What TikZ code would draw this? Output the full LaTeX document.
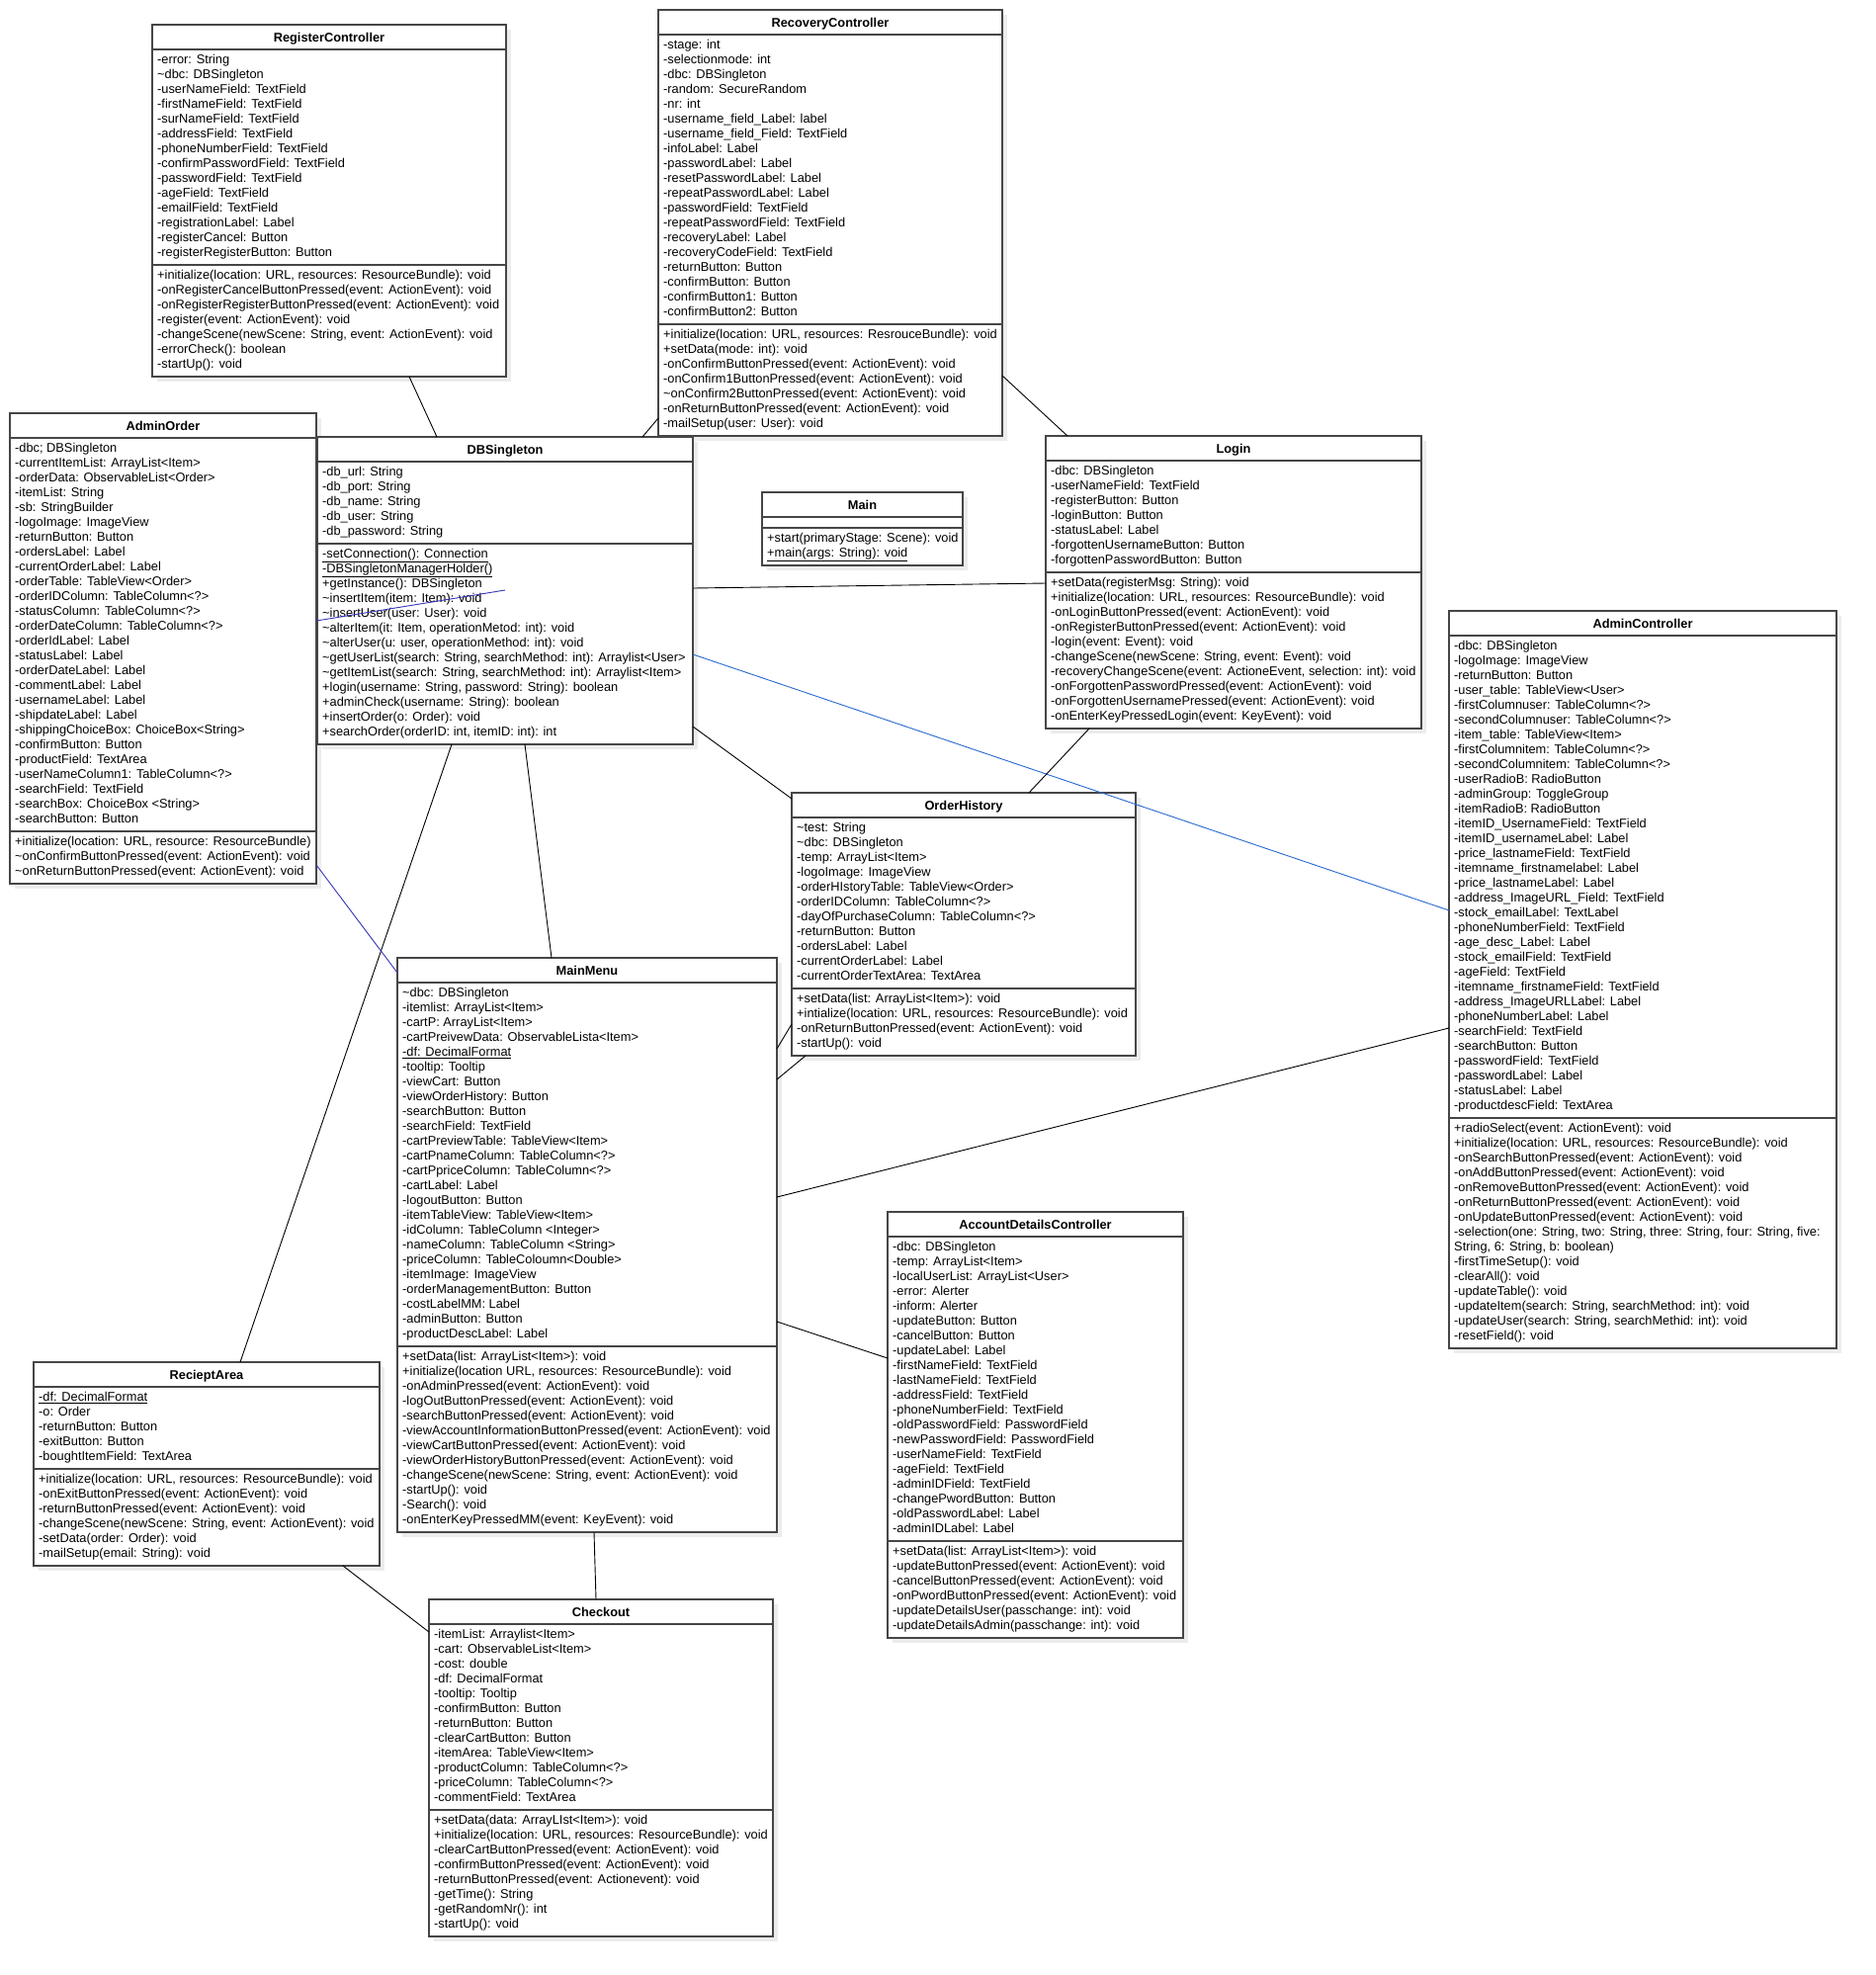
\documentclass[tikz,border=0pt]{standalone}
\usepackage{fontspec}
\setmainfont{Liberation Sans}
\definecolor{boxc}{RGB}{70,70,70}
\definecolor{shadowc}{RGB}{236,236,236}
\definecolor{blueA}{RGB}{40,105,210}
\definecolor{blueB}{RGB}{55,55,185}
\newcommand\tl{\textasciitilde}
% #1 name #2 x #3 y #4 width #5 title #6 n attrs #7 attrs #8 n methods #9 methods
\newcommand\umlclass[9]{%
  \pgfmathsetmacro\ha{#6==0 ? 11 : 15*#6+8}%
  \pgfmathsetmacro\hm{15*#8+8}%
  \pgfmathsetmacro\htot{25+\ha+\hm}%
  \fill[shadowc] (#2+5,#3+5) rectangle ++(#4,\htot);
  \node[boxnode, minimum width=#4pt, minimum height=\htot pt] (#1) at (#2,#3) {};
  \draw[sepline] (#2,#3+25) -- ++(#4,0);
  \draw[sepline] (#2,#3+25+\ha) -- ++(#4,0);
  \node[titletext] at (#2+#4/2,#3+17) {#5};
  \ifnum#6>0
    \foreach \myline [count=\i] in {#7}{\node[linetext] at (#2+5,#3+25+14.5+15*\i-15) {\myline};}
  \fi
  \foreach \myline [count=\i] in {#9}{\node[linetext] at (#2+5,#3+25+\ha+14.5+15*\i-15) {\myline};}
}
\begin{document}
\begin{tikzpicture}[x=1pt,y=-1pt,
  boxnode/.style={draw=boxc, line width=1.3pt, fill=white, anchor=north west, inner sep=0pt, outer sep=0pt},
  sepline/.style={draw=boxc, line width=1.3pt},
  titletext/.style={anchor=base, inner sep=0pt, font=\fontsize{12.8}{15}\selectfont\bfseries},
  linetext/.style={anchor=base west, inner sep=0pt, font=\fontsize{12.8}{15}\selectfont},
  conn/.style={draw=black, line width=0.9pt},
  bconnA/.style={draw=blueA, line width=0.9pt},
  bconnB/.style={draw=blueB, line width=0.9pt}]
\fill[white] (0,0) rectangle (1898,1998);
\useasboundingbox (0,0) rectangle (1898,1998);

\umlclass{reg}{154}{25}{358}{RegisterController}{14}{{-error: String},{\tl dbc: DBSingleton},{-userNameField: TextField},{-firstNameField: TextField},{-surNameField: TextField},{-addressField: TextField},{-phoneNumberField: TextField},{-confirmPasswordField: TextField},{-passwordField: TextField},{-ageField: TextField},{-emailField: TextField},{-registrationLabel: Label},{-registerCancel: Button},{-registerRegisterButton: Button}}{7}{{+initialize(location: URL, resources: ResourceBundle): void},{-onRegisterCancelButtonPressed(event: ActionEvent): void},{-onRegisterRegisterButtonPressed(event: ActionEvent): void},{-register(event: ActionEvent): void},{-changeScene(newScene: String, event: ActionEvent): void},{-errorCheck(): boolean},{-startUp(): void}}

\umlclass{rec}{666}{10}{348}{RecoveryController}{19}{{-stage: int},{-selectionmode: int},{-dbc: DBSingleton},{-random: SecureRandom},{-nr: int},{-username\_field\_Label: label},{-username\_field\_Field: TextField},{-infoLabel: Label},{-passwordLabel: Label},{-resetPasswordLabel: Label},{-repeatPasswordLabel: Label},{-passwordField: TextField},{-repeatPasswordField: TextField},{-recoveryLabel: Label},{-recoveryCodeField: TextField},{-returnButton: Button},{-confirmButton: Button},{-confirmButton1: Button},{-confirmButton2: Button}}{7}{{+initialize(location: URL, resources: ResrouceBundle): void},{+setData(mode: int): void},{-onConfirmButtonPressed(event: ActionEvent): void},{-onConfirm1ButtonPressed(event: ActionEvent): void},{\tl onConfirm2ButtonPressed(event: ActionEvent): void},{-onReturnButtonPressed(event: ActionEvent): void},{-mailSetup(user: User): void}}

\umlclass{ao}{10}{418}{310}{AdminOrder}{26}{{-dbc; DBSingleton},{-currentItemList: ArrayList<Item>},{-orderData: ObservableList<Order>},{-itemList: String},{-sb: StringBuilder},{-logoImage: ImageView},{-returnButton: Button},{-ordersLabel: Label},{-currentOrderLabel: Label},{-orderTable: TableView<Order>},{-orderIDColumn: TableColumn<?>},{-statusColumn: TableColumn<?>},{-orderDateColumn: TableColumn<?>},{-orderIdLabel: Label},{-statusLabel: Label},{-orderDateLabel: Label},{-commentLabel: Label},{-usernameLabel: Label},{-shipdateLabel: Label},{-shippingChoiceBox: ChoiceBox<String>},{-confirmButton: Button},{-productField: TextArea},{-userNameColumn1: TableColumn<?>},{-searchField: TextField},{-searchBox: ChoiceBox <String>},{-searchButton: Button}}{3}{{+initialize(location: URL, resource: ResourceBundle)},{\tl onConfirmButtonPressed(event: ActionEvent): void},{\tl onReturnButtonPressed(event: ActionEvent): void}}

\umlclass{db}{321}{442}{380}{DBSingleton}{5}{{-db\_url: String},{-db\_port: String},{-db\_name: String},{-db\_user: String},{-db\_password: String}}{13}{{\underline{-setConnection(): Connection}},{\underline{-DBSingletonManagerHolder()}},{+getInstance(): DBSingleton},{\tl insertItem(item: Item): void},{\tl insertUser(user: User): void},{\tl alterItem(it: Item, operationMetod: int): void},{\tl alterUser(u: user, operationMethod: int): void},{\tl getUserList(search: String, searchMethod: int): Arraylist<User>},{\tl getItemList(search: String, searchMethod: int): Arraylist<Item>},{+login(username: String, password: String): boolean},{+adminCheck(username: String): boolean},{+insertOrder(o: Order): void},{+searchOrder(orderID: int, itemID: int): int}}

\umlclass{main}{771}{498}{203}{Main}{0}{}{2}{{+start(primaryStage: Scene): void},{\underline{+main(args: String): void}}}

\umlclass{login}{1058}{441}{380}{Login}{7}{{-dbc: DBSingleton},{-userNameField: TextField},{-registerButton: Button},{-loginButton: Button},{-statusLabel: Label},{-forgottenUsernameButton: Button},{-forgottenPasswordButton: Button}}{10}{{+setData(registerMsg: String): void},{+initialize(location: URL, resources: ResourceBundle): void},{-onLoginButtonPressed(event: ActionEvent): void},{-onRegisterButtonPressed(event: ActionEvent): void},{-login(event: Event): void},{-changeScene(newScene: String, event: Event): void},{-recoveryChangeScene(event: ActioneEvent, selection: int): void},{-onForgottenPasswordPressed(event: ActionEvent): void},{-onForgottenUsernamePressed(event: ActionEvent): void},{-onEnterKeyPressedLogin(event: KeyEvent): void}}

\umlclass{ac}{1466}{618}{392}{AdminController}{32}{{-dbc: DBSingleton},{-logoImage: ImageView},{-returnButton: Button},{-user\_table: TableView<User>},{-firstColumnuser: TableColumn<?>},{-secondColumnuser: TableColumn<?>},{-item\_table: TableView<Item>},{-firstColumnitem: TableColumn<?>},{-secondColumnitem: TableColumn<?>},{-userRadioB: RadioButton},{-adminGroup: ToggleGroup},{-itemRadioB: RadioButton},{-itemID\_UsernameField: TextField},{-itemID\_usernameLabel: Label},{-price\_lastnameField: TextField},{-itemname\_firstnamelabel: Label},{-price\_lastnameLabel: Label},{-address\_ImageURL\_Field: TextField},{-stock\_emailLabel: TextLabel},{-phoneNumberField: TextField},{-age\_desc\_Label: Label},{-stock\_emailField: TextField},{-ageField: TextField},{-itemname\_firstnameField: TextField},{-address\_ImageURLLabel: Label},{-phoneNumberLabel: Label},{-searchField: TextField},{-searchButton: Button},{-passwordField: TextField},{-passwordLabel: Label},{-statusLabel: Label},{-productdescField: TextArea}}{15}{{+radioSelect(event: ActionEvent): void},{+initialize(location: URL, resources: ResourceBundle): void},{-onSearchButtonPressed(event: ActionEvent): void},{-onAddButtonPressed(event: ActionEvent): void},{-onRemoveButtonPressed(event: ActionEvent): void},{-onReturnButtonPressed(event: ActionEvent): void},{-onUpdateButtonPressed(event: ActionEvent): void},{-selection(one: String, two: String, three: String, four: String, five:},{String, 6: String, b: boolean)},{-firstTimeSetup(): void},{-clearAll(): void},{-updateTable(): void},{-updateItem(search: String, searchMethod: int): void},{-updateUser(search: String, searchMethid: int): void},{-resetField(): void}}

\umlclass{oh}{801}{802}{348}{OrderHistory}{11}{{\tl test: String},{\tl dbc: DBSingleton},{-temp: ArrayList<Item>},{-logoImage: ImageView},{-orderHIstoryTable: TableView<Order>},{-orderIDColumn: TableColumn<?>},{-dayOfPurchaseColumn: TableColumn<?>},{-returnButton: Button},{-ordersLabel: Label},{-currentOrderLabel: Label},{-currentOrderTextArea: TextArea}}{4}{{+setData(list: ArrayList<Item>): void},{+intialize(location: URL, resources: ResourceBundle): void},{-onReturnButtonPressed(event: ActionEvent): void},{-startUp(): void}}

\umlclass{mm}{402}{969}{384}{MainMenu}{24}{{\tl dbc: DBSingleton},{-itemlist: ArrayList<Item>},{-cartP: ArrayList<Item>},{-cartPreivewData: ObservableLista<Item>},{\underline{-df: DecimalFormat}},{-tooltip: Tooltip},{-viewCart: Button},{-viewOrderHistory: Button},{-searchButton: Button},{-searchField: TextField},{-cartPreviewTable: TableView<Item>},{-cartPnameColumn: TableColumn<?>},{-cartPpriceColumn: TableColumn<?>},{-cartLabel: Label},{-logoutButton: Button},{-itemTableView: TableView<Item>},{-idColumn: TableColumn <Integer>},{-nameColumn: TableColumn <String>},{-priceColumn: TableColoumn<Double>},{-itemImage: ImageView},{-orderManagementButton: Button},{-costLabelMM: Label},{-adminButton: Button},{-productDescLabel: Label}}{12}{{+setData(list: ArrayList<Item>): void},{+initialize(location URL, resources: ResourceBundle): void},{-onAdminPressed(event: ActionEvent): void},{-logOutButtonPressed(event: ActionEvent): void},{-searchButtonPressed(event: ActionEvent): void},{-viewAccountInformationButtonPressed(event: ActionEvent): void},{-viewCartButtonPressed(event: ActionEvent): void},{-viewOrderHistoryButtonPressed(event: ActionEvent): void},{-changeScene(newScene: String, event: ActionEvent): void},{-startUp(): void},{-Search(): void},{-onEnterKeyPressedMM(event: KeyEvent): void}}

\umlclass{ra}{34}{1378}{350}{RecieptArea}{5}{{\underline{-df: DecimalFormat}},{-o: Order},{-returnButton: Button},{-exitButton: Button},{-boughtItemField: TextArea}}{6}{{+initialize(location: URL, resources: ResourceBundle): void},{-onExitButtonPressed(event: ActionEvent): void},{-returnButtonPressed(event: ActionEvent): void},{-changeScene(newScene: String, event: ActionEvent): void},{-setData(order: Order): void},{-mailSetup(email: String): void}}

\umlclass{adc}{898}{1226}{299}{AccountDetailsController}{20}{{-dbc: DBSingleton},{-temp: ArrayList<Item>},{-localUserList: ArrayList<User>},{-error: Alerter},{-inform: Alerter},{-updateButton: Button},{-cancelButton: Button},{-updateLabel: Label},{-firstNameField: TextField},{-lastNameField: TextField},{-addressField: TextField},{-phoneNumberField: TextField},{-oldPasswordField: PasswordField},{-newPasswordField: PasswordField},{-userNameField: TextField},{-ageField: TextField},{-adminIDField: TextField},{-changePwordButton: Button},{-oldPasswordLabel: Label},{-adminIDLabel: Label}}{6}{{+setData(list: ArrayList<Item>): void},{-updateButtonPressed(event: ActionEvent): void},{-cancelButtonPressed(event: ActionEvent): void},{-onPwordButtonPressed(event: ActionEvent): void},{-updateDetailsUser(passchange: int): void},{-updateDetailsAdmin(passchange: int): void}}

\umlclass{co}{434}{1618}{348}{Checkout}{12}{{-itemList: Arraylist<Item>},{-cart: ObservableList<Item>},{-cost: double},{-df: DecimalFormat},{-tooltip: Tooltip},{-confirmButton: Button},{-returnButton: Button},{-clearCartButton: Button},{-itemArea: TableView<Item>},{-productColumn: TableColumn<?>},{-priceColumn: TableColumn<?>},{-commentField: TextArea}}{8}{{+setData(data: ArrayLIst<Item>): void},{+initialize(location: URL, resources: ResourceBundle): void},{-clearCartButtonPressed(event: ActionEvent): void},{-confirmButtonPressed(event: ActionEvent): void},{-returnButtonPressed(event: Actionevent): void},{-getTime(): String},{-getRandomNr(): int},{-startUp(): void}}

% connectors
\coordinate (dbin) at ([xshift=190pt,yshift=-155pt]db.north west);
\draw[conn] ([xshift=260pt]reg.south west) -- ([xshift=121pt]db.north west);
\draw[conn] ([yshift=18pt]rec.south west) -- ([xshift=329pt]db.north west);
\draw[conn] ([yshift=61pt]rec.south east) -- ([xshift=22pt]login.north west);
\draw[conn] ([yshift=-153pt]db.north east) -- ([yshift=-149pt]login.north west);
\draw[bconnA] ([yshift=-220pt]db.north east) -- ([yshift=-303pt]ac.north west);
\draw[conn] ([yshift=18pt]db.south east) -- ([yshift=-6pt]oh.north west);
\draw[conn] ([xshift=210pt]db.south west) -- ([xshift=156pt]mm.north west);
\draw[conn] ([xshift=136pt]db.south west) -- ([xshift=209pt]ra.north west);
\draw[bconnB] ([yshift=19pt]ao.south east) -- ([yshift=-15pt]mm.north west);
\draw[bconnB] ([yshift=-210pt]ao.north east) -- (dbin);
\draw[conn] ([yshift=-234pt]oh.north west) -- ([yshift=-92pt]mm.north east);
\draw[conn] ([xshift=14pt]oh.south west) -- ([yshift=-123pt]mm.north east);
\draw[conn] ([yshift=-242pt]mm.north east) -- ([yshift=-422pt]ac.north west);
\draw[conn] ([yshift=-368pt]mm.north east) -- ([yshift=-148pt]adc.north west);
\draw[conn] ([xshift=44pt]login.south west) -- ([xshift=240pt]oh.north west);
\draw[conn] ([xshift=313pt]ra.south west) -- ([yshift=-33pt]co.north west);
\draw[conn] ([xshift=199pt]mm.south west) -- ([xshift=169pt]co.north west);
\end{tikzpicture}
\end{document}
